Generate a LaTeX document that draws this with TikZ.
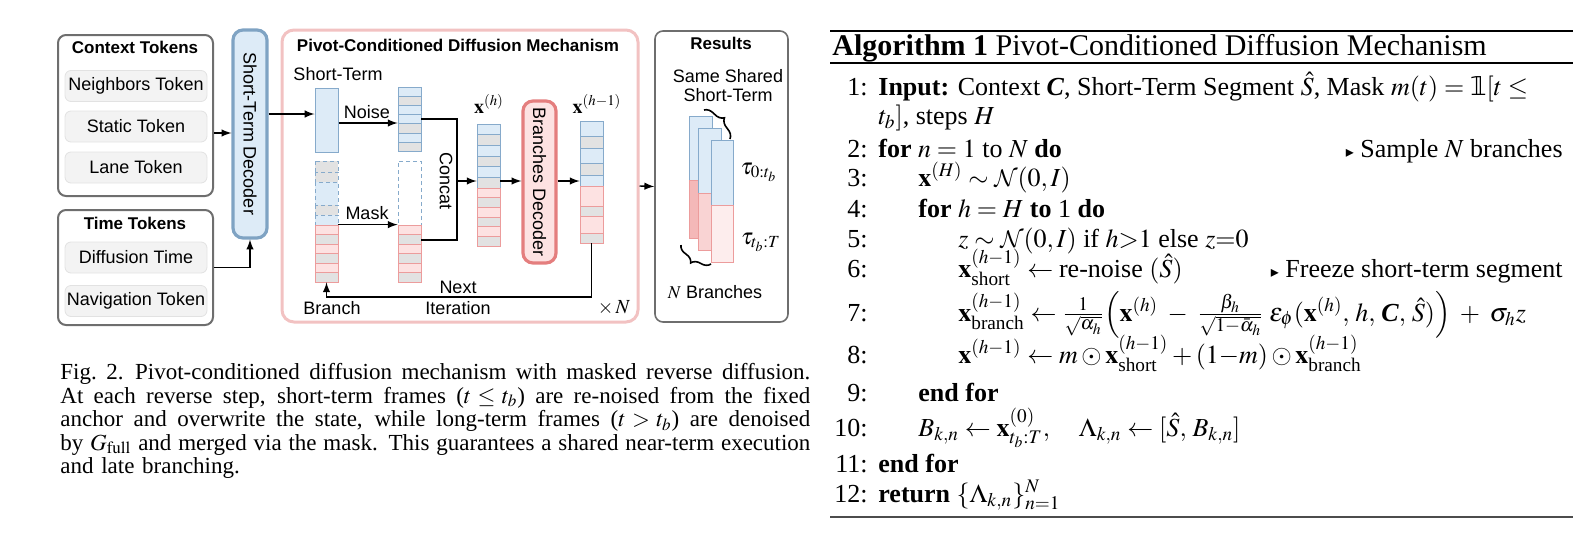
\documentclass[tikz,border=0pt]{standalone}
\usepackage{amsmath}
\usepackage{amssymb}
\usepackage{mathptmx}
\usepackage[no-math]{fontspec}
\setmainfont{Liberation Serif}
\newfontfamily\diafont{Liberation Sans}
\newfontfamily\symbfont{DejaVu Sans}
\usetikzlibrary{shapes, arrows, positioning, decorations.pathreplacing}
\DeclareMathAlphabet{\mathcalcm}{OMS}{cmsy}{m}{n}
\newcommand{\indic}{\mbox{\symbfont 𝟙}}
\newcommand{\capline}[1]{{\spaceskip=0pt\xspaceskip=0pt\thickmuskip=5mu\medmuskip=4mu\makebox[375pt][s]{#1}}}
\definecolor{cblue}{HTML}{DDEBF7}
\definecolor{bline}{HTML}{86AACB}
\definecolor{cgray}{HTML}{E2E2E2}
\definecolor{cpink}{HTML}{FDE2E2}
\definecolor{rline}{HTML}{EC9C9C}
\definecolor{pivline}{HTML}{F2C2C2}
\definecolor{decblue}{HTML}{7FA3C3}
\definecolor{decred}{HTML}{E47E7E}
\definecolor{grayline}{HTML}{6E6E6E}
\definecolor{tokfill}{HTML}{F3F3F3}
\definecolor{tokline}{HTML}{E2E2E2}
\definecolor{rbarA}{HTML}{F4B8B8}
\definecolor{rbarB}{HTML}{F9D3D3}
\definecolor{rbarC}{HTML}{FDEDED}
\tikzstyle{groupbox} = [draw=grayline, line width=1pt, rounded corners=4pt, inner sep=0pt]
\tikzstyle{grouptitle} = [font=\diafont\bfseries\fontsize{8.5}{10}\selectfont, inner sep=1pt]
\tikzstyle{tokbox} = [draw=tokline, fill=tokfill, rounded corners=3pt, minimum width=71pt, minimum height=15.5pt, inner sep=0pt, font=\diafont\fontsize{9}{10}\selectfont]
\tikzstyle{lbl} = [font=\diafont\fontsize{9}{9.5}\selectfont, inner sep=1pt]
\tikzstyle{conn} = [line width=0.7pt, ->]
\tikzstyle{cellb} = [draw=bline, line width=0.5pt]
\tikzstyle{cellr} = [draw=rline, line width=0.5pt]
\tikzstyle{bar} = [inner sep=0pt, minimum width=11.5pt]
\tikzstyle{algo} = [font=\fontsize{13}{15}\selectfont, inner sep=0pt, anchor=base west]
\tikzstyle{algeast} = [font=\fontsize{13}{15}\selectfont, inner sep=0pt, anchor=base east]
\begin{document}
\begin{tikzpicture}[x=0.5pt, y=-0.5pt, >=latex]
\useasboundingbox (0,0) rectangle (1573,541);

% context and time tokens
\node[groupbox, minimum width=77.5pt, minimum height=80.5pt] (ctxbox) at (135.5,115.5) {};
\node[grouptitle] at (135,47) {Context Tokens};
\node[tokbox] (nbtok) at (136,86) {Neighbors Token};
\node[tokbox] (sttok) at (136,126.5) {Static Token};
\node[tokbox] (lntok) at (136,167.5) {Lane Token};
\node[groupbox, minimum width=77.5pt, minimum height=57.5pt] (timebox) at (135.5,267.5) {};
\node[grouptitle] at (135,223) {Time Tokens};
\node[tokbox] (dftok) at (136,257.5) {Diffusion Time};
\node[tokbox] (nvtok) at (136,301) {Navigation Token};

% short-term decoder
\node[draw=decblue, fill=cblue, line width=1.6pt, rounded corners=5pt, minimum width=17pt, minimum height=104pt, inner sep=0pt] (stdec) at (250,134) {};
\node[lbl, rotate=-90] (stdeclbl) at (stdec.center) {Short-Term Decoder};
\draw[conn] ([yshift=-8.75pt]ctxbox.east) -- ([yshift=-8.75pt]ctxbox.east -| stdec.west);
\draw[conn] (timebox.east) -| (stdec.south);

% pivot-conditioned diffusion
\node[draw=pivline, line width=1.5pt, rounded corners=6pt, minimum width=178pt, minimum height=146pt, inner sep=0pt] (pivot) at (460,176) {};
\node[grouptitle] at (458,45) {Pivot-Conditioned Diffusion Mechanism};
\node[lbl] at (338,74) {Short-Term};

\node[bar, draw=bline, fill=cblue, line width=0.5pt, minimum height=32pt] (stblk) at (326.5,120) {};
\draw[conn] ([yshift=3pt]stblk.west -| stdec.east) -- ([yshift=3pt]stblk.west);
\foreach \ya/\yb/\c in {161/172/cgray, 172/182/cgray, 182/205/cblue, 205/215/cgray, 215/225/cblue}
  \draw[cellb, dash pattern=on 2pt off 1.5pt, fill=\c] (315,\ya) rectangle (338,\yb);
\foreach \ya/\yb/\c in {225/234.5/cpink, 234.5/244/cgray, 244/253.5/cpink, 253.5/263/cgray, 263/272.5/cpink, 272.5/282/cgray}
  \draw[cellr, fill=\c] (315,\ya) rectangle (338,\yb);
\node[bar, minimum height=28.5pt] (rdblkA) at (326.5,253.5) {};

\foreach \ya/\yb/\c in {87/96/cblue, 96/105/cgray, 105/114/cblue, 114/123/cblue, 123/133/cgray, 133/142/cblue, 142/151/cgray}
  \draw[cellb, fill=\c] (398,\ya) rectangle (421,\yb);
\node[bar, minimum height=32pt] (nzblk) at (409.5,119) {};
\node[bar, draw=bline, line width=0.5pt, dash pattern=on 2pt off 1.5pt, minimum height=32pt] (mkblk) at (409.5,193) {};
\foreach \ya/\yb/\c in {225/234.5/cpink, 234.5/244/cgray, 244/253.5/cpink, 253.5/263/cgray, 263/272.5/cpink, 272.5/282/cgray}
  \draw[cellr, fill=\c] (398,\ya) rectangle (421,\yb);
\node[bar, minimum height=28.5pt] (rdblkB) at (409.5,253.5) {};

\draw[conn] ([yshift=-1.5pt]stblk.east) -- ([yshift=-1.5pt]stblk.east -| nzblk.west);
\draw[conn] (rdblkA.north east) -- (rdblkB.north west);
\node[lbl] at (367,112) {Noise};
\node[lbl] at (367,213) {Mask};

\coordinate (cat) at (457,181);
\draw[line width=0.7pt] (nzblk.east) -| (cat);
\draw[line width=0.7pt] ([yshift=6.75pt]rdblkB.east) -| (cat);
\node[lbl, rotate=-90] at (446,181) {Concat};

\foreach \ya/\yb/\c in {124/134.7/cblue, 134.7/145.3/cgray, 145.3/156/cblue, 156/166.7/cgray, 166.7/177.3/cblue, 177.3/188/cgray}
  \draw[cellb, fill=\c] (477,\ya) rectangle (500,\yb);
\foreach \ya/\yb/\c in {188/197.7/cpink, 197.7/207.3/cgray, 207.3/217/cpink, 217/226.7/cgray, 226.7/236.3/cpink, 236.3/246/cgray}
  \draw[cellr, fill=\c] (477,\ya) rectangle (500,\yb);
\node[bar, minimum height=61pt] (xh) at (488.5,185) {};
\node[font=\fontsize{10}{11}\selectfont, inner sep=1pt] at (489,104) {$\mathbf{x}^{(h)}$};
\draw[conn] (cat) -- (cat -| xh.west);

\node[draw=decred, fill=cpink, line width=1.6pt, rounded corners=5pt, minimum width=16.5pt, minimum height=81pt, inner sep=0pt] (brdec) at (539.5,182) {};
\node[lbl, rotate=-90] (brdeclbl) at (brdec.center) {Branches Decoder};

\foreach \ya/\yb/\c in {121/136/cblue, 136/148/cgray, 148/163/cblue, 163/175/cgray, 175/186/cblue}
  \draw[cellb, fill=\c] (580,\ya) rectangle (603,\yb);
\foreach \ya/\yb/\c in {186/206/cpink, 206/216/cgray, 216/233/cpink, 233/243/cgray}
  \draw[cellr, fill=\c] (580,\ya) rectangle (603,\yb);
\node[bar, minimum height=61pt] (xhm) at (591.5,182) {};
\node[font=\fontsize{10}{11}\selectfont, inner sep=1pt] at (597,104) {$\mathbf{x}^{(h-1)}$};

\draw[conn] (cat -| xh.east) -- (cat -| brdec.west);
\draw[conn] (cat -| brdec.east) -- (cat -| xhm.west);

\coordinate (loopc) at (460,297);
\draw[conn] (xhm.south) |- (loopc) -| (rdblkA.south);
\node[lbl] at (458,287) {Next};
\node[lbl] at (458,308) {Iteration};
\node[lbl] at (332,308) {Branch};
\node[font=\fontsize{10}{11}\selectfont, inner sep=1pt] at (614,308) {$\times\, N$};

% results
\node[groupbox, line width=0.8pt, minimum width=66.5pt, minimum height=145.5pt] (resbox) at (721.5,176.5) {};
\draw[conn] ([yshift=-5pt]pivot.east) -- ([yshift=-5pt]resbox.west);
\node[grouptitle] at (721,43) {Results};
\node[lbl, align=center] at (728,86) {Same Shared\\Short-Term};
\draw[cellb, fill=cblue] (689,116) rectangle (712,180);
\draw[cellr, fill=rbarA] (689,180) rectangle (712,238);
\draw[cellb, fill=cblue] (698,128) rectangle (721,193);
\draw[cellr, fill=rbarB] (698,193) rectangle (721,250);
\draw[cellb, fill=cblue] (711,140) rectangle (733,205);
\draw[cellr, fill=rbarC] (711,205) rectangle (733,262);
\draw[decorate, decoration={brace, amplitude=5pt}, line width=0.8pt] (704,110) -- (730,139);
\draw[decorate, decoration={brace, amplitude=5pt}, line width=0.8pt] (711,264) -- (681,245);
\node[font=\fontsize{11.5}{12}\selectfont] at (759,172) {$\tau_{0:t_b}$};
\node[font=\fontsize{11.5}{12}\selectfont] at (761,242) {$\tau_{t_b:T}$};
\node[lbl] at (715,292) {$N$ Branches};

% caption
\node[anchor=north west, text width=375pt, align=left, inner sep=0pt, font=\fontsize{11.5}{11.75}\selectfont] (caption) at (60,363) {\capline{Fig.~2.\hspace{0.5em}Pivot-conditioned diffusion mechanism with masked reverse diffusion.}\\ \capline{At each reverse step, short-term frames ($t \leq t_b$) are re-noised from the fixed}\\ \capline{anchor and overwrite the state, while long-term frames ($t > t_b$) are denoised}\\ \capline{by $G_{\mathrm{full}}$ and merged via the mask. This guarantees a shared near-term execution}\\ and late branching.};

% algorithm
\draw[line width=1pt] (830,31) -- (1573,31);
\node[algo, font=\fontsize{15}{16}\selectfont] (algtitle) at (832,55) {\textbf{Algorithm 1} Pivot-Conditioned Diffusion Mechanism};
\draw[line width=0.6pt] (830,63) -- (1573,63);
\foreach \n/\y in {1/95, 2/157, 3/186, 4/217, 5/247, 6/277, 7/321, 8/363, 9/401, 10/436, 11/472, 12/502}
  \node[algeast] at (868,\y) {\n:};
\node[algo] at (878,95) {\textbf{Input:} Context $\mbox{\bfseries\itshape C}$, Short-Term Segment $\hat{S}$, Mask $m(t) = \indic[t \leq$};
\node[algo] at (878,124) {$t_b]$, steps $H$};
\node[algo] at (878,157) {\textbf{for} $n = 1$ to $N$ \textbf{do}};
\node[algeast] at (1563,157) {{\symbfont\fontsize{8}{10}\selectfont ▸} Sample $N$ branches};
\node[algo] at (918,186) {$\mathbf{x}^{(H)} \sim \mathcalcm{N}(0, I)$};
\node[algo] at (918,217) {\textbf{for} $h = H$ \textbf{to} 1 \textbf{do}};
\node[algo] at (958,247) {$z \sim \mathcalcm{N}(0, I)$ if $h{>}1$ else $z{=}0$};
\node[algo] at (958,277) {$\mathbf{x}^{(h-1)}_{\text{short}} \leftarrow \text{re-noise } (\hat{S})$};
\node[algeast] at (1563,277) {{\symbfont\fontsize{8}{10}\selectfont ▸} Freeze short-term segment};
\node[algo] at (958,321) {$\mathbf{x}^{(h-1)}_{\text{branch}} \leftarrow \frac{1}{\sqrt{\alpha_h}}\Big(\mathbf{x}^{(h)} \;-\; \frac{\beta_h}{\sqrt{1-\bar{\alpha}_h}}\;\epsilon_\phi(\mathbf{x}^{(h)},\, h,\, \mbox{\bfseries\itshape C},\, \hat{S})\Big) \;+\; \sigma_h z$};
\node[algo] at (958,363) {$\mathbf{x}^{(h-1)} \leftarrow m \odot \mathbf{x}^{(h-1)}_{\text{short}} + (1{-}m) \odot \mathbf{x}^{(h-1)}_{\text{branch}}$};
\node[algo] at (918,401) {\textbf{end for}};
\node[algo] at (918,436) {$B_{k,n} \leftarrow \mathbf{x}^{(0)}_{t_b:T},\quad \Lambda_{k,n} \leftarrow [\hat{S},\, B_{k,n}]$};
\node[algo] at (878,472) {\textbf{end for}};
\node[algo] at (878,502) {\textbf{return} $\{\Lambda_{k,n}\}_{n=1}^{N}$};
\draw[line width=0.8pt, draw=black!70] (830,517) -- (1573,517);
\end{tikzpicture}
\end{document}
